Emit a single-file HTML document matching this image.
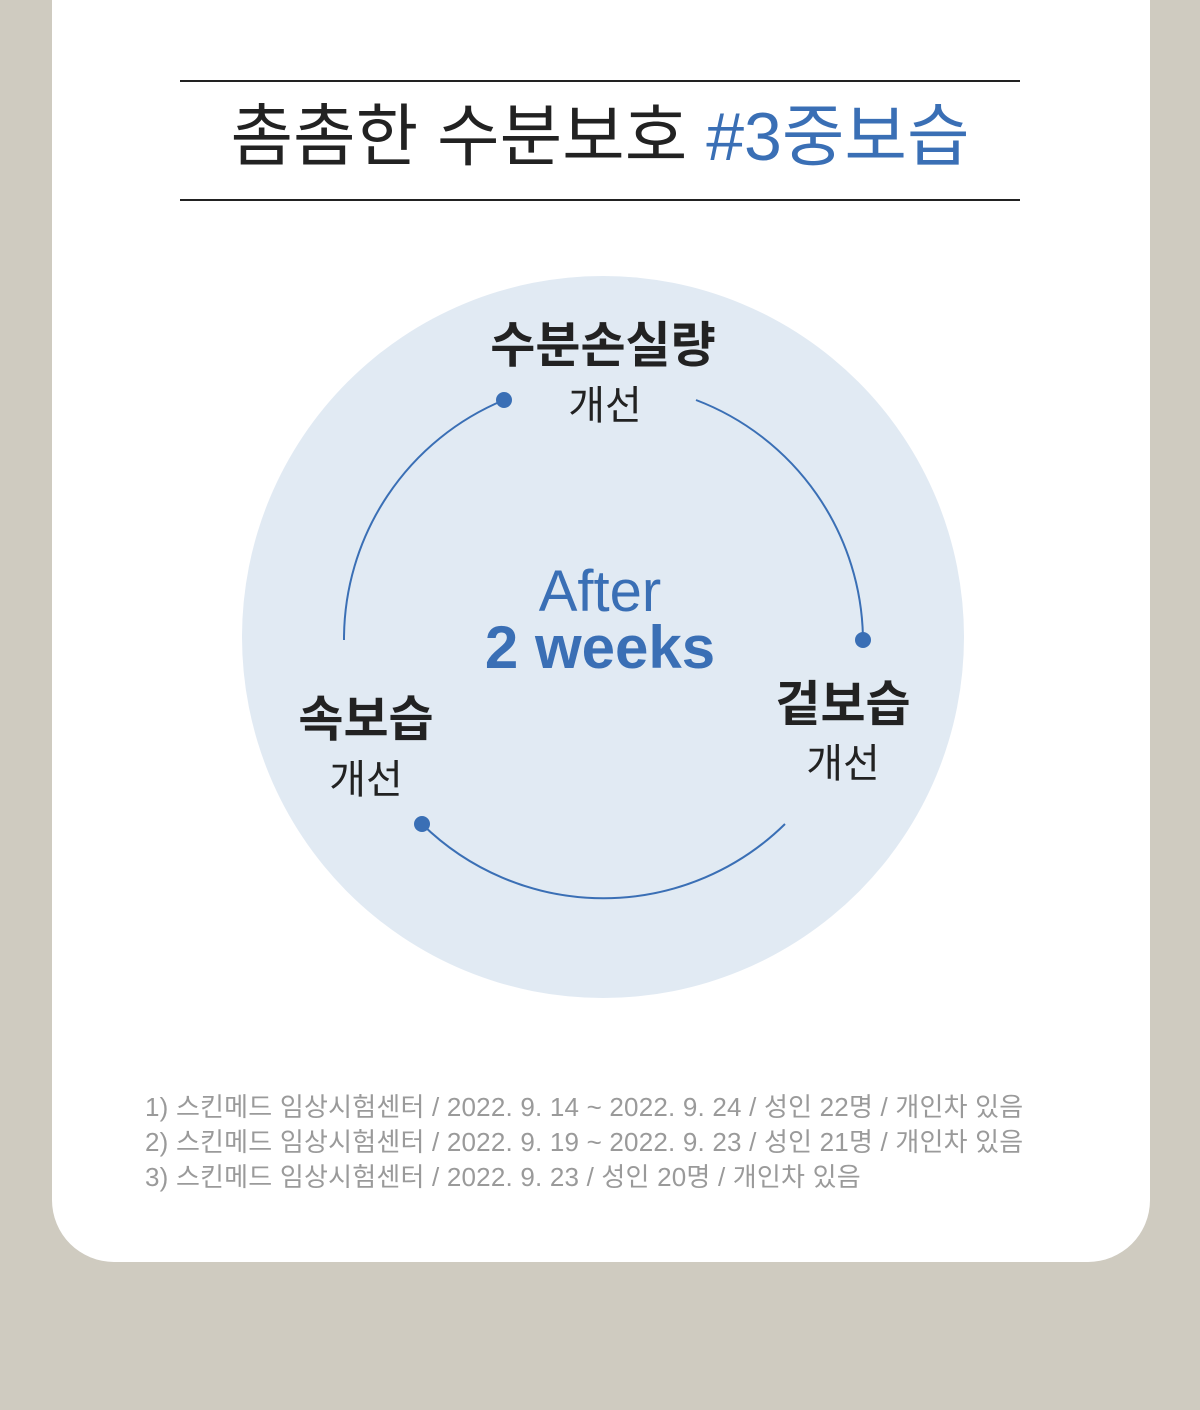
<!DOCTYPE html>
<html><head><meta charset="utf-8"><style>
html,body{margin:0;padding:0;}
body{width:1200px;height:1410px;background:#cfcbc0;position:relative;overflow:hidden;font-family:"Liberation Sans","Noto Sans CJK KR",sans-serif;}
.card{position:absolute;left:52px;top:0;width:1098px;height:1262px;background:#fff;border-radius:0 0 62px 62px;}
.t{position:absolute;white-space:nowrap;text-align:center;transform:translateX(-50%);line-height:1;}
.line{position:absolute;left:180px;width:840px;height:2px;background:#222;}
.fn{position:absolute;left:145px;font-size:26px;letter-spacing:0.2px;color:#9a9a9a;line-height:1;white-space:nowrap;}
</style></head><body>
<div class="card"></div>
<div class="line" style="top:80px"></div>
<div class="line" style="top:199px"></div>
<div class="t" style="left:600px;top:103px;font-size:68px;color:#222;">촘촘한 수분보호 <span style="color:#3a6fb5">#3중보습</span></div>
<svg style="position:absolute;left:0;top:0" width="1200" height="1410">
<circle cx="603" cy="637" r="361" fill="#e1eaf3"/>
<g fill="none" stroke="#3a6fb5" stroke-width="2">
<path d="M504 400 A259 259 0 0 0 344 640"/>
<path d="M696 400 A259 259 0 0 1 863 640"/>
<path d="M422 824 A259 259 0 0 0 785 824"/>
</g>
<g fill="#3a6fb5"><circle cx="504" cy="400" r="8"/><circle cx="863" cy="640" r="8"/><circle cx="422" cy="824" r="8"/></g>
</svg>
<div class="t" style="left:603px;top:322px;font-size:49px;font-weight:bold;color:#222;">수분손실량</div>
<div class="t" style="left:605px;top:386px;font-size:40px;color:#222;">개선</div>
<div class="t" style="left:843px;top:681px;font-size:49px;font-weight:bold;color:#222;">겉보습</div>
<div class="t" style="left:843px;top:744px;font-size:40px;color:#222;">개선</div>
<div class="t" style="left:366px;top:696px;font-size:49px;font-weight:bold;color:#222;">속보습</div>
<div class="t" style="left:366px;top:760px;font-size:40px;color:#222;">개선</div>
<div class="t" style="left:600px;top:563px;font-size:58px;color:#3a6fb5;">After</div>
<div class="t" style="left:600px;top:618px;font-size:60px;font-weight:bold;color:#3a6fb5;">2 weeks</div>
<div class="fn" style="top:1094px">1) 스킨메드 임상시험센터 / 2022. 9. 14 ~ 2022. 9. 24 / 성인 22명 / 개인차 있음</div>
<div class="fn" style="top:1129px">2) 스킨메드 임상시험센터 / 2022. 9. 19 ~ 2022. 9. 23 / 성인 21명 / 개인차 있음</div>
<div class="fn" style="top:1164px">3) 스킨메드 임상시험센터 / 2022. 9. 23 / 성인 20명 / 개인차 있음</div>
</body></html>
